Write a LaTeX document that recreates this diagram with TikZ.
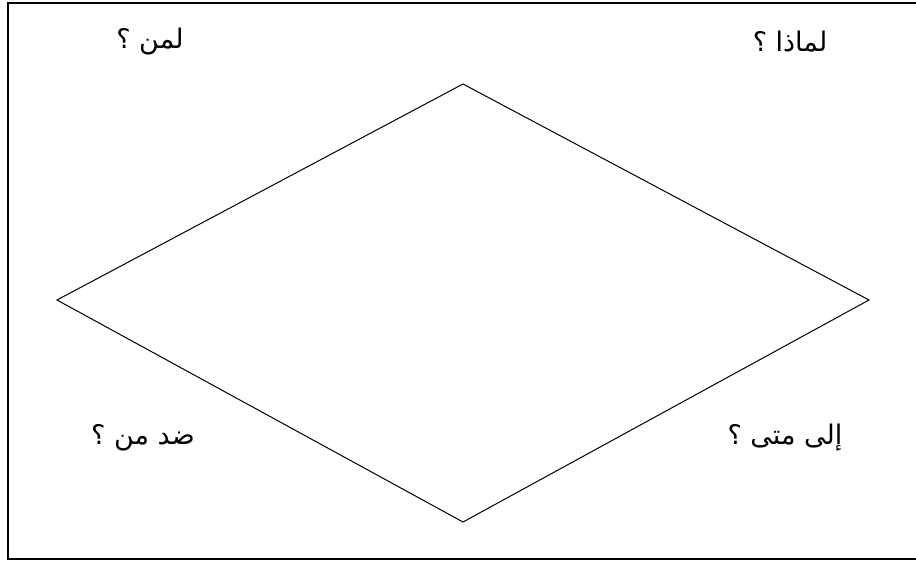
\documentclass[tikz,border=0pt]{standalone}
\usepackage{fontspec}
\setmainfont{Liberation Sans}
\newfontfamily\arabicfont[Script=Arabic]{DejaVu Sans}
\TeXXeTstate=1
\begin{document}
\begin{tikzpicture}[x=1pt,y=-1pt,
  lbl/.style={inner sep=0pt,font=\arabicfont\fontsize{27}{30}\selectfont},
  diamondline/.style={draw=black,line width=1pt}]
\useasboundingbox (0,0) rectangle (916,560);
\begin{scope}
\clip (0,0) rectangle (916,560);
\draw[line width=2pt] (8,3) rectangle (930,559);
\end{scope}
\coordinate (T) at (463,84);
\coordinate (L) at (57,300);
\coordinate (R) at (869,300);
\coordinate (B) at (463,522);
\draw[diamondline] (T) -- (R) -- (B) -- (L) -- cycle;
\node[lbl] (q1) at (150,42) {\beginR لمن ؟\endR};
\node[lbl] (q2) at (790,42) {\beginR لماذا ؟\endR};
\node[lbl] (q3) at (143,438) {\beginR ضد من ؟\endR};
\node[lbl] (q4) at (785,438) {\beginR إلى متى ؟\endR};
\end{tikzpicture}
\end{document}
